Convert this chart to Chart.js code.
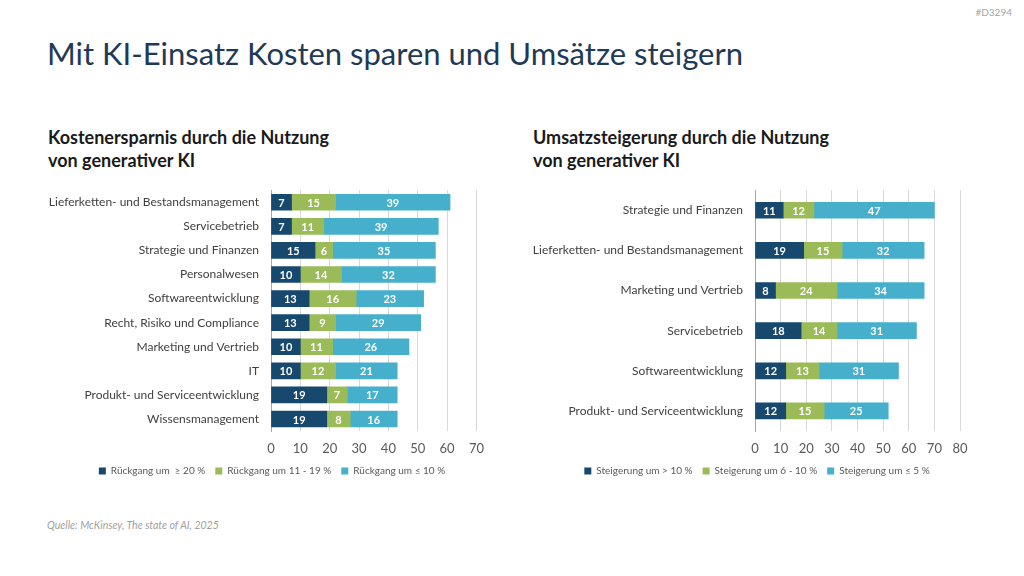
<!DOCTYPE html>
<html lang="de">
<head>
<meta charset="utf-8">
<script src="https://cdn.jsdelivr.net/npm/chart.js@4"></script>
<style>
  body { margin: 0; width: 1024px; height: 576px; background: #fff; font-family: Lato, "Open Sans", sans-serif; position: relative; overflow: hidden; }
  .doc-id { position: absolute; right: 12px; top: 6px; font-size: 10px; color: #a6a6a6; }
  .title { position: absolute; left: 47px; top: 34px; font-size: 31px; color: #1f3a56; margin: 0; font-weight: 400; }
  .sub { position: absolute; top: 126px; font-size: 18px; font-weight: 700; color: #1a1a1a; line-height: 23px; margin: 0; }
  .box { position: absolute; top: 171px; width: 470px; height: 315px; }
  .source { position: absolute; left: 47px; top: 519px; font-size: 10.5px; font-style: italic; color: #a0a0a0; }
</style>
</head>
<body>
<div class="doc-id">#D3294</div>
<h1 class="title">Mit KI-Einsatz Kosten sparen und Umsätze steigern</h1>
<p class="sub" style="left:48px">Kostenersparnis durch die Nutzung<br>von generativer KI</p>
<p class="sub" style="left:533px">Umsatzsteigerung durch die Nutzung<br>von generativer KI</p>
<div class="box" style="left:20px; width:474px"><canvas id="costChart"></canvas></div>
<div class="box" style="left:510px"><canvas id="revChart"></canvas></div>
<div class="source">Quelle: McKinsey, The state of AI, 2025</div>

<script>
// ---- data ----
const costCategories = [
    'Lieferketten- und Bestandsmanagement', 'Servicebetrieb', 'Strategie und Finanzen',
    'Personalwesen', 'Softwareentwicklung', 'Recht, Risiko und Compliance',
    'Marketing und Vertrieb', 'IT', 'Produkt- und Serviceentwicklung', 'Wissensmanagement'
];
const costHigh = [7, 7, 15, 10, 13, 13, 10, 10, 19, 19];
const costMid  = [15, 11, 6, 14, 16, 9, 11, 12, 7, 8];
const costLow  = [39, 39, 35, 32, 23, 29, 26, 21, 17, 16];
const costLegend = ['Rückgang um  ≥ 20 %', 'Rückgang um 11 - 19 %', 'Rückgang um ≤ 10 %'];

const revCategories = [
    'Strategie und Finanzen', 'Lieferketten- und Bestandsmanagement', 'Marketing und Vertrieb',
    'Servicebetrieb', 'Softwareentwicklung', 'Produkt- und Serviceentwicklung'
];
const revHigh = [11, 19, 8, 18, 12, 12];
const revMid  = [12, 15, 24, 14, 13, 15];
const revLow  = [47, 32, 34, 31, 31, 25];
const revLegend = ['Steigerung um > 10 %', 'Steigerung um 6 - 10 %', 'Steigerung um ≤ 5 %'];

const colors = ['#17486d', '#9bbb59', '#45afcc'];

// draws the value inside each bar segment
const valueLabels = {
    id: 'valueLabels',
    afterDatasetsDraw(chart) {
        const ctx = chart.ctx;
        ctx.save();
        ctx.font = 'bold 11px Lato, sans-serif';
        ctx.fillStyle = '#ffffff';
        ctx.textAlign = 'center';
        ctx.textBaseline = 'middle';
        chart.data.datasets.forEach((ds, i) => {
            chart.getDatasetMeta(i).data.forEach((bar, j) => {
                const p = bar.getCenterPoint();
                ctx.fillText(ds.data[j], p.x, p.y + 1);
            });
        });
        ctx.restore();
    }
};

// moves the legend sideways so it sits under the plot like in the original
const legendShift = {
    id: 'legendShift',
    afterLayout(chart, args, opts) {
        chart.legend.left += opts.dx;
        chart.legend.right += opts.dx;
    }
};

function buildChart(id, categories, series, legend, xMax, padRight, axisWidth, dx) {
    return new Chart(document.getElementById(id), {
        type: 'bar',
        data: {
            labels: categories,
            datasets: series.map((data, i) => ({
                label: legend[i],
                data: data,
                backgroundColor: colors[i],
                barThickness: 16
            }))
        },
        options: {
            indexAxis: 'y',
            responsive: true,
            maintainAspectRatio: false,
            animation: false,
            layout: { padding: { top: 0, left: 0, right: padRight } },
            plugins: {
                legend: {
                    position: 'bottom',
                    labels: {
                        boxWidth: 7, boxHeight: 7, padding: 10,
                        color: '#595959',
                        font: { family: 'Lato, sans-serif', size: 10 }
                    }
                },
                legendShift: { dx: dx },
                tooltip: { enabled: false }
            },
            scales: {
                x: {
                    stacked: true,
                    min: 0, max: xMax,
                    afterFit: (s) => { s.height = 25; },
                    ticks: { stepSize: 10, color: '#595959', padding: 10, font: { family: 'Lato, sans-serif', size: 13 } },
                    grid: { color: '#d9d9d9', drawTicks: false },
                    border: { display: false }
                },
                y: {
                    stacked: true,
                    afterFit: (s) => { s.width = axisWidth; },
                    ticks: { color: '#404040', padding: 12, font: { family: 'Lato, sans-serif', size: 12 } },
                    grid: { display: false, drawTicks: false },
                    border: { color: '#a6a6a6' }
                }
            }
        },
        plugins: [valueLabels, legendShift]
    });
}

buildChart('costChart', costCategories, [costHigh, costMid, costLow], costLegend, 70, 6, 251, 18);
buildChart('revChart', revCategories, [revHigh, revMid, revLow], revLegend, 80, 20, 245, 22);
</script>
</body>
</html>
